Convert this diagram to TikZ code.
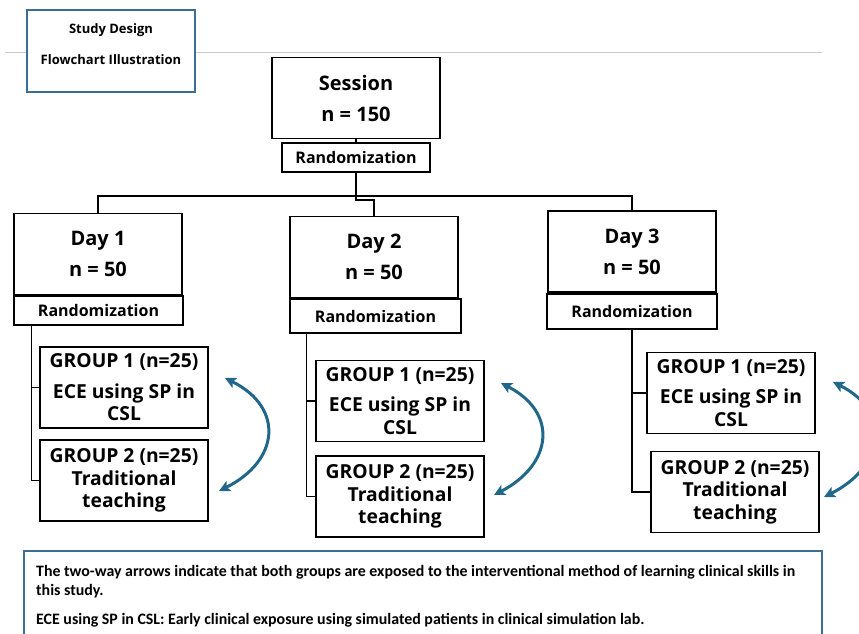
\documentclass[tikz,border=0pt]{standalone}
\usepackage{fontspec}
\setmainfont{Open Sans}
\newfontfamily\notefont{Carlito}
\usetikzlibrary{positioning}
\usetikzlibrary{arrows.meta}
\definecolor{frameblue}{HTML}{3B6E92}
\definecolor{arrowblue}{HTML}{20678A}
\tikzset{
    stagebox/.style={
        draw, line width=1.2pt,
        minimum width=168pt, minimum height=81pt,
        inner sep=0pt, align=center,
        font=\bfseries\fontsize{20}{31}\selectfont
    },
    randbox/.style={
        draw, line width=1.2pt,
        inner sep=0pt,
        font=\bfseries\fontsize{16}{18}\selectfont
    },
    groupbox/.style={
        draw, line width=1.2pt,
        minimum width=168pt, minimum height=81pt,
        inner sep=0pt, align=center,
        font=\bfseries\fontsize{19.3}{22.5}\selectfont
    },
    titlebox/.style={
        draw=frameblue, line width=1.8pt, fill=white,
        minimum width=168pt, minimum height=82pt
    },
    titletext/.style={
        inner sep=0pt, align=center,
        font=\bfseries\fontsize{13}{31}\selectfont
    },
    notetext/.style={
        inner sep=0pt, align=left,
        font=\notefont\bfseries\fontsize{15.9}{19}\selectfont
    },
    link/.style={draw, line width=1.2pt},
    rule/.style={draw=gray!40, line width=0.9pt},
    swap/.style={
        draw=arrowblue, line width=3pt,
        <->, >={Stealth[length=11pt, width=11pt, inset=2.5pt]}
    }
}

\begin{document}
\begin{tikzpicture}[x=1pt, y=-1pt]
    \useasboundingbox (0,0) rectangle (859,634);
    \clip (0,0) rectangle (859,634);

    % heading
    \draw[rule] (5,52) -- (822,52);
    \node[titlebox] (title) at (111,51) {};
    \node[titletext] (titletxt) at (111,44.5) {Study Design\\Flowchart Illustration};

    % whole session
    \node[stagebox] (ses) at (356,98) {Session\\n = 150};
    \node[randbox, minimum width=148pt, minimum height=29pt] (rand0) at (356,157.5) {Randomization};
    \coordinate (hub) at (356,196);

    % the three days
    \node[stagebox] (day1) at (98,254) {Day 1\\n = 50};
    \node[randbox, minimum width=169pt, minimum height=29pt] (rand1) at (98.5,310.5) {Randomization};
    \node[stagebox] (day2) at (374,257) {Day 2\\n = 50};
    \node[randbox, minimum width=171pt, minimum height=34pt] (rand2) at (375.5,316) {Randomization};
    \node[stagebox] (day3) at (632,251.5) {Day 3\\n = 50};
    \node[randbox, minimum width=170pt, minimum height=35pt] (rand3) at (632,311.5) {Randomization};

    % groups
    \node[groupbox] (g11) at (124,387.5) {GROUP 1 (n=25)\\[8pt]ECE using SP in\\CSL};
    \node[groupbox] (g12) at (124,480.5) {GROUP 2 (n=25)\\Traditional\\teaching};
    \node[groupbox] (g21) at (400,401) {GROUP 1 (n=25)\\[8pt]ECE using SP in\\CSL};
    \node[groupbox] (g22) at (400,496.5) {GROUP 2 (n=25)\\Traditional\\teaching};
    \node[groupbox] (g31) at (731,393) {GROUP 1 (n=25)\\[8pt]ECE using SP in\\CSL};
    \node[groupbox] (g32) at (735,492) {GROUP 2 (n=25)\\Traditional\\teaching};

    % tree lines
    \draw[link] (ses.south) -- (rand0.north);
    \draw[link] (rand0.south) -- (hub);
    \draw[link] (day1.north) |- (hub) -| (day3.north);
    \draw[link] (hub) -- ++(0,4) -| (day2.north);

    \coordinate (trunk1) at ([xshift=18pt]rand1.south west);
    \coordinate (trunk2) at ([xshift=17pt]rand2.south west);
    \coordinate (trunk3) at (rand3.south);
    \draw[link] (trunk1) |- (g12.west);
    \draw[link] (g11.west) -- (g11.west -| trunk1);
    \draw[link] (trunk2) |- (g22.west);
    \draw[link] (g21.west) -- (g21.west -| trunk2);
    \draw[link] (trunk3) |- (g32.west);
    \draw[link] (g31.west) -- (g31.west -| trunk3);

    % two-way arrows
    \coordinate (s1a) at (225,378);
    \coordinate (s1b) at (219,491);
    \coordinate (s2a) at (501,383);
    \coordinate (s2b) at (494,495);
    \coordinate (s3a) at (833,382);
    \coordinate (s3b) at (824,497);
    \draw[swap] (s1a) .. controls +(60,30) and +(60,-30) .. (s1b);
    \draw[swap] (s2a) .. controls +(58,30) and +(58,-30) .. (s2b);
    \draw[swap] (s3a) .. controls +(60,30) and +(60,-30) .. (s3b);

    % note
    \draw[draw=frameblue, line width=1.8pt] (24,551) rectangle (822,660);
    \node[notetext, anchor=north west] (note) at (36,565) {The two-way arrows indicate that both groups are exposed to the interventional method of learning clinical skills in\\this study.\\[10pt]ECE using SP in CSL: Early clinical exposure using simulated patients in clinical simulation lab.};
\end{tikzpicture}
\end{document}
